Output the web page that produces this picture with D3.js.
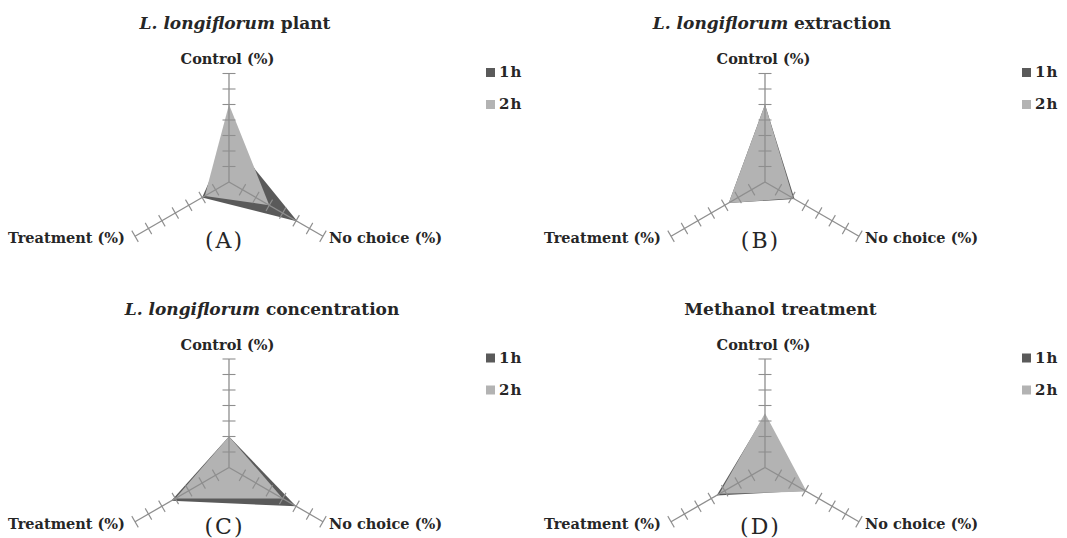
<!DOCTYPE html>
<html>
<head>
<meta charset="utf-8">
<script src="https://cdn.jsdelivr.net/npm/d3@7"></script>
<style>
  html, body { margin: 0; padding: 0; background: #fff; }
  svg { display: block; }
  text { font-family: "DejaVu Serif", "Liberation Serif", serif; fill: #262626; }
</style>
</head>
<body>
<svg id="chart" width="1067" height="538"></svg>
<script>
// Panel captions and titles
const panelLetters = ["(A)", "(B)", "(C)", "(D)"];
const titleItalic = ["L. longiflorum", "L. longiflorum", "L. longiflorum", ""];
const titleRest = [" plant", " extraction", " concentration", "Methanol treatment"];

// Radar axes, clockwise from the top
const axisLabels = ["Control (%)", "No choice (%)", "Treatment (%)"];
const axisTicks = [10, 20, 30, 40, 50, 60, 70];

// Series (percent of insects per choice)
const seriesNames = ["1h", "2h"];
const values1h = [
  [29, 51, 20],
  [50, 22, 27],
  [20, 50, 43],
  [34, 30, 36]
];
const values2h = [
  [50, 30, 18],
  [50, 21, 27],
  [20, 40, 40],
  [35, 31, 34]
];
const seriesColors = ["#5a5a5a", "#b3b3b3"];

// Horizontal shift of each panel title from the radar centre
const titleShift = [6, 7, 33, 15.5];

const svg = d3.select("#chart");
const R = 108.5;
const r = d3.scaleLinear().domain([0, 70]).range([0, R]);
const angle = d3.scalePoint().domain(axisLabels).range([-Math.PI / 2, -Math.PI / 2 + 4 * Math.PI / 3]);
const colorScale = d3.scaleOrdinal().domain(seriesNames).range(seriesColors);

const radial = d3.lineRadial()
  .angle((d, i) => angle(axisLabels[i]) + Math.PI / 2)
  .radius(d => r(d))
  .curve(d3.curveLinearClosed);

panelLetters.forEach((letter, p) => {
  const col = p % 2, row = Math.floor(p / 2);
  const cx = 229 + col * 536;
  const cy = 182 + row * 285.5;
  const g = svg.append("g").attr("transform", `translate(${cx},${cy})`);

  // Title
  const t = g.append("text")
    .attr("x", titleShift[p]).attr("y", -153)
    .attr("text-anchor", "middle")
    .style("font-size", "17px").style("font-weight", "bold");
  if (titleItalic[p]) {
    t.append("tspan").style("font-style", "italic").text(titleItalic[p]);
  }
  t.append("tspan").text(titleRest[p]);

  // Filled series polygons: 1h underneath, 2h on top
  [values1h[p], values2h[p]].forEach((vals, s) => {
    g.append("path")
      .attr("d", radial(vals))
      .attr("fill", colorScale(seriesNames[s]));
  });

  // Axes with perpendicular tick marks
  axisLabels.forEach(lab => {
    const a = angle(lab);
    const ux = Math.cos(a), uy = Math.sin(a);
    const ax = g.append("g");
    ax.append("line")
      .attr("x1", 0).attr("y1", 0)
      .attr("x2", r(70) * ux).attr("y2", r(70) * uy)
      .attr("stroke", "#8e8e8e").attr("stroke-width", 1.3);
    ax.selectAll("line.tick").data(axisTicks).join("line")
      .attr("class", "tick")
      .attr("x1", d => r(d) * ux - 6.5 * uy)
      .attr("y1", d => r(d) * uy + 6.5 * ux)
      .attr("x2", d => r(d) * ux + 6.5 * uy)
      .attr("y2", d => r(d) * uy - 6.5 * ux)
      .attr("stroke", "#8e8e8e").attr("stroke-width", 1.1);
  });

  // Axis labels
  const labelStyle = sel => sel.style("font-size", "14.5px").style("font-weight", "bold");
  g.append("text").attr("x", -1.5).attr("y", -118)
    .attr("text-anchor", "middle").call(labelStyle)
    .text(axisLabels[0]);
  g.append("text").attr("x", 100).attr("y", 61)
    .attr("text-anchor", "start").call(labelStyle)
    .text(axisLabels[1]);
  g.append("text").attr("x", -104).attr("y", 61)
    .attr("text-anchor", "end").call(labelStyle)
    .text(axisLabels[2]);

  // Panel letter
  g.append("text").attr("x", -4.5).attr("y", 66)
    .attr("text-anchor", "middle")
    .style("font-size", "22px").style("letter-spacing", "2px")
    .text(letter);

  // Legend
  seriesNames.forEach((name, s) => {
    g.append("rect")
      .attr("x", 257).attr("y", -114 + s * 32)
      .attr("width", 9).attr("height", 9)
      .attr("fill", colorScale(name));
    g.append("text")
      .attr("x", 270).attr("y", -105 + s * 32)
      .style("font-size", "15px").style("font-weight", "bold")
      .style("letter-spacing", "1px")
      .text(name);
  });
});
</script>
</body>
</html>
